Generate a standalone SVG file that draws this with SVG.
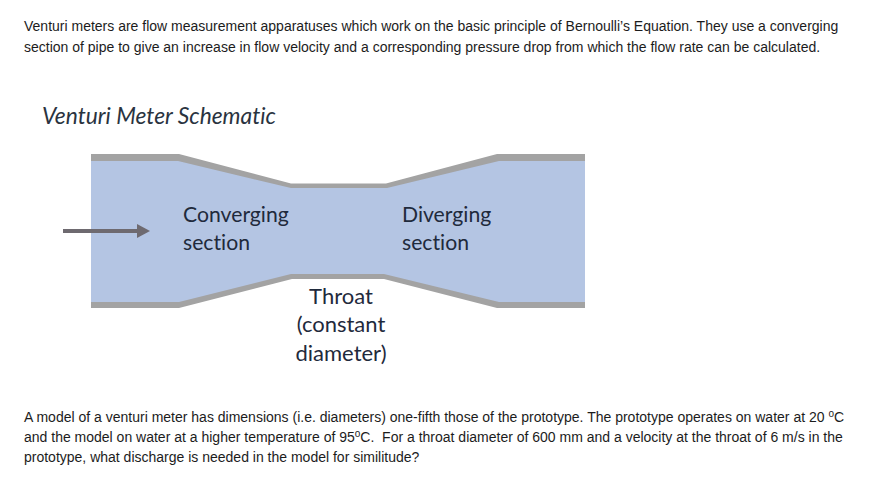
<svg xmlns="http://www.w3.org/2000/svg" width="886" height="481" viewBox="0 0 886 481">
<style>
text{font-variant-ligatures:none}
.p{font-family:"Liberation Sans",Arial,sans-serif;font-size:14px;fill:#1c1c1c}
.l{font-family:"Lato","Open Sans",sans-serif;font-size:21.2px;fill:#1f2a3c}
.th{font-size:22px}
.t{font-family:"Lato","Open Sans",sans-serif;font-size:22.8px;font-style:italic;fill:#2a3340}
.w{fill:#a3a3a3}
</style>
<defs><marker id="ah" markerUnits="userSpaceOnUse" markerWidth="14" markerHeight="14" refX="3" refY="7" orient="auto"><path d="M0,0L13,7L0,14Z" fill="#6e6a70"/></marker></defs>
<rect width="886" height="481" fill="#fff"/>
<g id="intro">
<text class="p" x="24" y="31">Venturi meters are flow measurement apparatuses which work on the basic principle of Bernoulli’s Equation. They use a converging</text>
<text class="p" x="24" y="52">section of pipe to give an increase in flow velocity and a corresponding pressure drop from which the flow rate can be calculated.</text>
</g>
<text class="t" x="42" y="124">Venturi Meter Schematic</text>
<g id="venturi">
<path d="M91,160H179L291,186H386L497,160H585V303H497L386,276H291L179,303H91Z" fill="#b4c5e3"/>
<path class="w" d="M91,154H179L291,183.500H386L497,154H585V161H499L387,188H291L178,161H91Z"/>
<path class="w" d="M91,302H179L291,274H384L499,302H585V308H497L384,279H292L179,308H91Z"/>
</g>
<g id="connectors"><line x1="63" y1="231" x2="140" y2="231" stroke="#6e6a70" stroke-width="4" marker-end="url(#ah)"/></g>
<g id="converging"><text class="l" x="183" y="222">Converging</text><text class="l" x="183" y="250">section</text></g>
<g id="diverging"><text class="l" x="402" y="222">Diverging</text><text class="l" x="402" y="250">section</text></g>
<g id="throat" text-anchor="middle"><text class="l th" x="341" y="304">Throat</text><text class="l th" x="341" y="332">(constant</text><text class="l th" x="341" y="361">diameter)</text></g>
<g id="problem">
<text class="p" x="24" y="422">A model of a venturi meter has dimensions (i.e. diameters) one-fifth those of the prototype. The prototype operates on water at 20 <tspan font-size="10" dy="-5">o</tspan><tspan dy="5">C</tspan></text>
<text class="p" x="24" y="442">and the model on water at a higher temperature of 95<tspan font-size="10" dy="-5">o</tspan><tspan dy="5" xml:space="preserve">C.  For a throat diameter of 600 mm and a velocity at the throat of 6 m/s in the</tspan></text>
<text class="p" x="24" y="462">prototype, what discharge is needed in the model for similitude?</text>
</g>
</svg>
